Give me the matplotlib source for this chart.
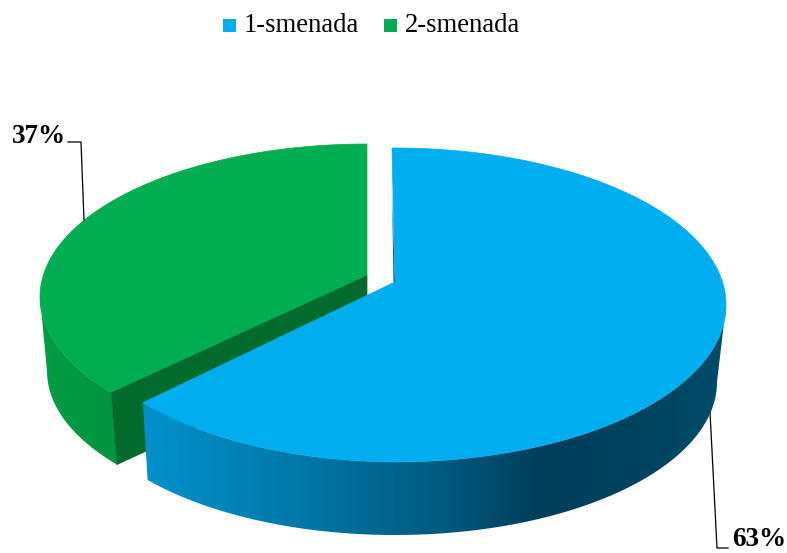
import numpy as np
import matplotlib
matplotlib.use('Agg')
import matplotlib.pyplot as plt
from matplotlib.colors import to_rgb
from matplotlib.patches import Polygon, Rectangle

labels = ['1-smenada', '2-smenada']
shares = [63, 37]
pct_labels = ['63%', '37%']
colors = ['#00AEEF', '#00AD50']

plt.rcParams['font.family'] = ['Liberation Serif', 'DejaVu Serif']

# 3d pie is faked in pixel coordinates
fig = plt.figure(figsize=(7.87, 5.53), dpi=100)
ax = fig.add_axes([0, 0, 1, 1])


def rim(cx, cy, a, b, t):
	# t is clockwise angle from the top of the pie, radians
	return np.column_stack([cx + a*np.sin(t), cy - b*np.cos(t)])


def side_fill(outline, xs, cols, z):
	# horizontal gradient clipped to the side of a slice
	rgb = np.array([to_rgb(c) for c in cols])
	grid = np.arange(787)
	row = np.column_stack([np.interp(grid, xs, rgb[:, k]) for k in range(3)])
	patch = Polygon(outline, closed=True, fc='none', ec='none', transform=ax.transData)
	ax.add_patch(patch)
	im = ax.imshow(row[np.newaxis, :, :], extent=(0, 787, 553, 0), aspect='auto', zorder=z)
	im.set_clip_path(patch)


# perspective pushes the cut a bit further round than the plain share
fracs = np.array(shares)/sum(shares)
cut = 2*np.pi*fracs[0]
skew_top = np.radians(2.8)
skew_low = np.radians(3.4)

# green slice
t_g = np.linspace(cut + np.radians(4.7), 2*np.pi, 300)
top_g = rim(367, 297, 327, 153, t_g)
t_gs = np.linspace(cut + np.radians(4.6), 1.5*np.pi, 200)
low_g = rim(367, 371, 320, 150, t_gs)
top_gs = rim(367, 297, 327, 153, np.linspace(t_g[0], 1.5*np.pi, 200))
side_fill(np.vstack([top_gs, low_g[::-1]]), [40, 120], ['#009C45', '#00953F'], 1)
ax.add_patch(Polygon([(367, 275), top_g[0], low_g[0], (367, 349)], closed=True, fc='#006B2D', ec='#006B2D', lw=0.5, zorder=2))
ax.add_patch(Polygon(np.vstack([[(367, 275)], top_g[::-1]]), closed=True, fc=colors[1], ec=colors[1], lw=0.5, zorder=3))

# blue slice, dark band on the right of the side
t_b = np.linspace(0, cut + skew_top, 400)
top_b = rim(395, 305, 331, 157, t_b)
top_b[:, 1] -= 4*np.clip((t_b - np.radians(170))/(t_b[-1] - np.radians(170)), 0, 1)**2
t_bs = np.linspace(0.5*np.pi, cut + skew_low, 300)
low_b = rim(395, 382, 322, 153, t_bs)
idx = t_b >= 0.5*np.pi
stops_x = [145, 300, 450, 540, 640, 726]
stops_c = ['#0092CC', '#0078A8', '#00587C', '#003E5A', '#00445F', '#004B6B']
side_fill(np.vstack([top_b[idx], low_b[::-1]]), stops_x, stops_c, 4)
ax.add_patch(Polygon([(392, 190), (395, 282), (393.5, 282)], closed=True, fc='#00567A', ec='none', zorder=4.5))
ax.add_patch(Polygon(np.vstack([[(395, 282), (392, 148)], top_b]), closed=True, fc=colors[0], ec=colors[0], lw=0.5, zorder=5))

# leader lines and labels
ax.plot([84, 81, 68], [220, 142, 142], color='black', lw=0.9, zorder=7)
ax.plot([710, 717, 728], [412, 548, 548], color='black', lw=0.9, zorder=3.5)
ax.text(39, 143, pct_labels[1], fontsize=19.5, fontweight='bold', ha='center', va='baseline')
ax.text(759, 546, pct_labels[0], fontsize=19.5, fontweight='bold', ha='center', va='baseline')

# legend
for x, col, lab in zip([223, 384], colors, labels):
	ax.add_patch(Rectangle((x, 19), 13, 13, fc=col, ec='none'))
	ax.text(x + 21, 26, lab, fontsize=19.2, ha='left', va='center')

ax.set_xlim(0, 787)
ax.set_ylim(553, 0)
ax.axis('off')
fig.savefig('out.png', dpi=100)
